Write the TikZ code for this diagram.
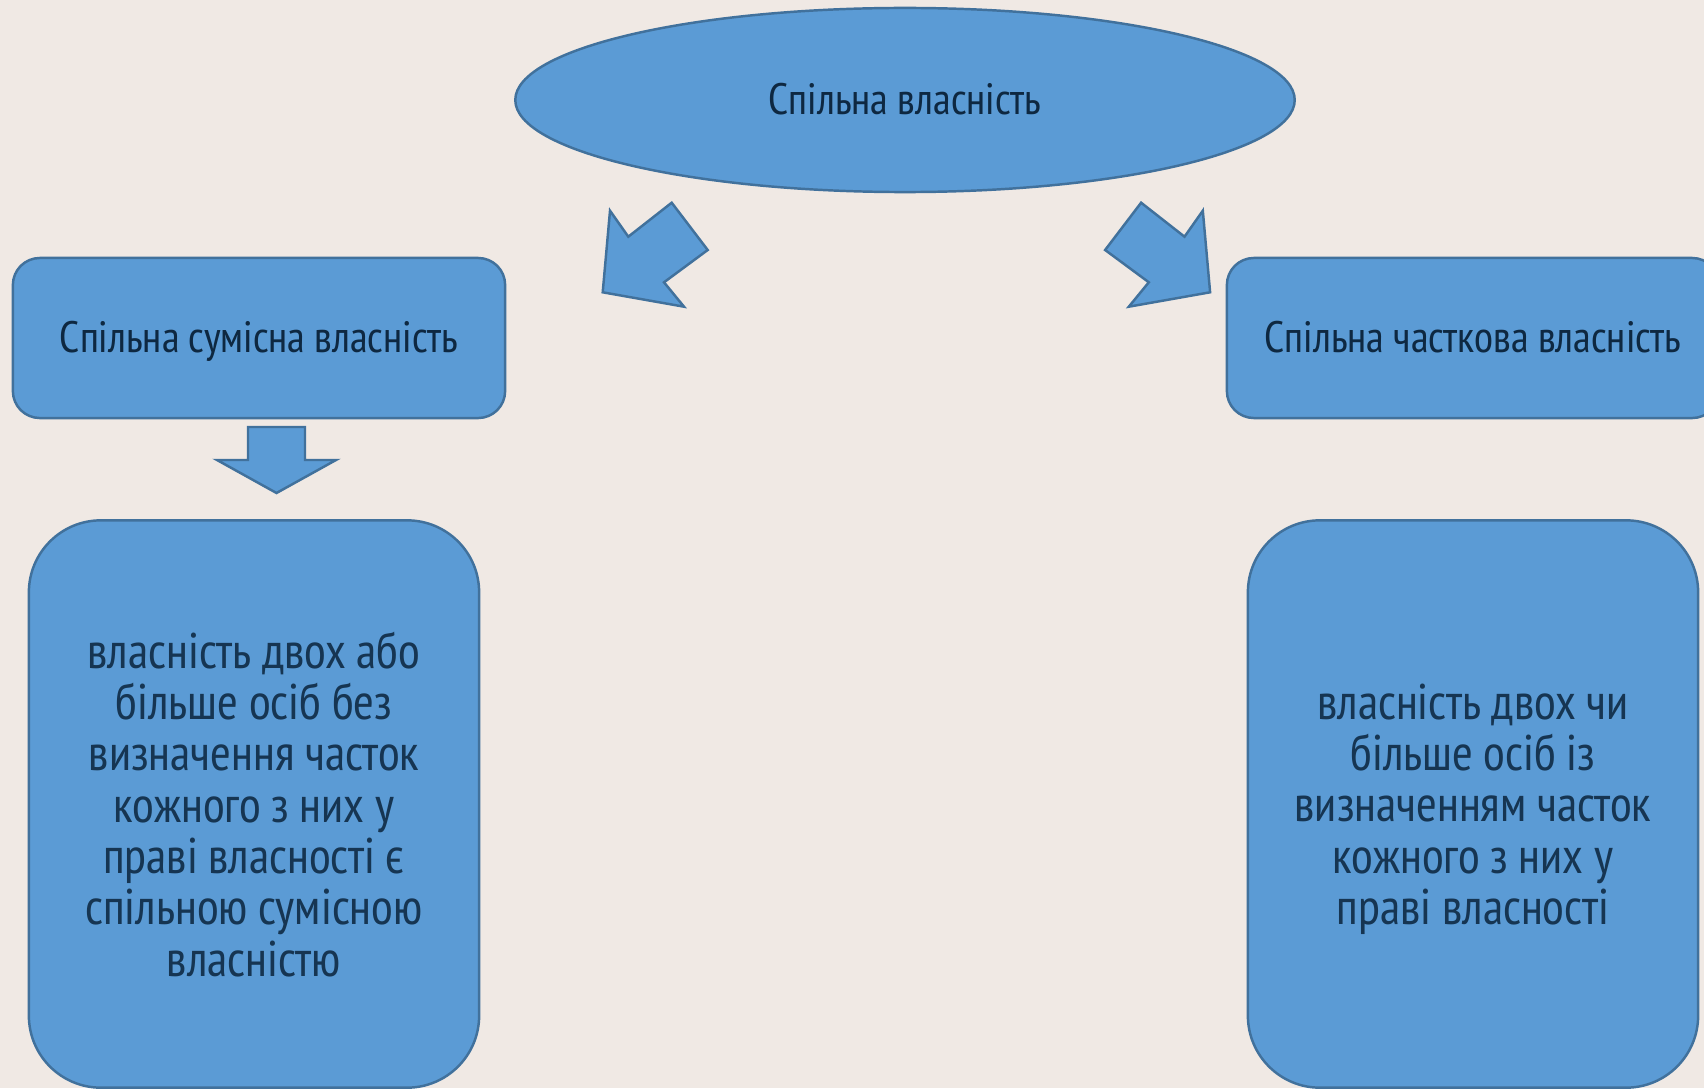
\documentclass[tikz,border=0pt]{standalone}
\usepackage{fontspec}
\setmainfont{PT Sans Narrow}
\usepackage{tikz}
\usetikzlibrary{shapes.geometric}

\definecolor{pagebg}{HTML}{F0E9E4}
\definecolor{boxfill}{HTML}{5B9BD5}
\definecolor{boxline}{HTML}{41719C}
\definecolor{headtext}{HTML}{0E2841}
\definecolor{bodytext}{HTML}{163552}

\tikzset{
    shapebase/.style={draw=boxline, line width=0.7pt, fill=boxfill},
    headfont/.style={text=headtext, font=\fontsize{12.5}{14}\selectfont, text height=2ex, text depth=0.3ex},
    headbox/.style={shapebase, headfont, rectangle, rounded corners=0.27cm, minimum width=4.92cm, minimum height=1.6cm},
    infobox/.style={shapebase, rectangle, rounded corners=0.72cm, minimum width=4.5cm, minimum height=5.67cm, align=center, text=bodytext, text depth=0pt, font=\fontsize{14.3}{14.6}\selectfont},
    blockarrow/.style={shapebase, line join=miter}
}

\begin{document}
\begin{tikzpicture}[x=0.01cm, y=-0.01cm]
\useasboundingbox (0,0) rectangle (1704,1088);
\fill[pagebg] (0,0) rectangle (1704,1088);
\clip (0,0) rectangle (1704,1088);

\node[shapebase, headfont, ellipse, minimum width=7.79cm, minimum height=1.84cm] (common) at (905,100) {Спільна власність};

\node[headbox] (joint) at (259,338) {Спільна сумісна власність};
\node[headbox] (shared) at (1473,338) {Спільна часткова власність};

% Block arrows
\draw[blockarrow] (671.7,202.7) -- (707.7,250) -- (664,282.3) -- (684,306.7) -- (602.7,292.3) -- (610,210.7) -- (628.3,236.7) -- cycle;
\draw[blockarrow] (1141.1,202.7) -- (1105.1,250) -- (1148.8,282.3) -- (1128.8,306.7) -- (1210.1,292.3) -- (1202.8,210.7) -- (1184.5,236.7) -- cycle;
\draw[blockarrow] (248,427) -- (305,427) -- (305,460) -- (336,460) -- (276.5,493) -- (217,460) -- (248,460) -- cycle;

% Definitions
\node[infobox] (jointdef) at (254,804) {
    власність двох або\\
    більше осіб без\\
    визначення часток\\
    кожного з них у\\
    праві власності є\\
    спільною сумісною\\
    власністю
};
\node[infobox] (shareddef) at (1473,804) {
    власність двох чи\\
    більше осіб із\\
    визначенням часток\\
    кожного з них у\\
    праві власності
};
\end{tikzpicture}
\end{document}
